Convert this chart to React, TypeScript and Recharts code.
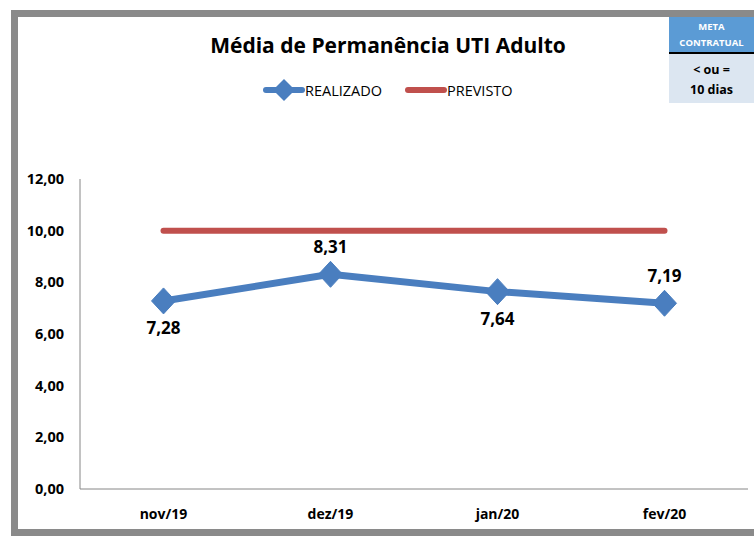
import React from 'react';
import { ComposedChart, Line, XAxis, YAxis, LabelList } from 'recharts';

const months = ['nov/19', 'dez/19', 'jan/20', 'fev/20'];
const realizado = [7.28, 8.31, 7.64, 7.19];
const previsto = [10, 10, 10, 10];
const yTicks = [0, 2, 4, 6, 8, 10, 12];
const labelAbove = [false, true, false, true];

const data = months.map((m, i) => ({ month: m, realizado: realizado[i], previsto: previsto[i] }));

const BLUE = '#4a7ebf';
const RED = '#c0504d';
const FONT = '"Open Sans", "Noto Sans", sans-serif';

const fmt = (v: number) => v.toFixed(2).replace('.', ',');

const Diamond = (props: any) => {
  const { cx, cy } = props;
  if (cx == null || cy == null) return null;
  const w = 12, h = 13;
  return <path d={`M${cx},${cy - h} L${cx + w},${cy} L${cx},${cy + h} L${cx - w},${cy} Z`} fill={BLUE} stroke={BLUE} strokeWidth={1} />;
};

const DataLabel = (props: any) => {
  const { x, y, value, index } = props;
  const above = labelAbove[index];
  return (
    <text x={x} y={above ? y - 28 : y + 27} textAnchor="middle" dominantBaseline="central"
      fontFamily={FONT} fontWeight={700} fontSize={17} fill="#000">{fmt(value)}</text>
  );
};

const LegendBox = () => (
  <div style={{ position: 'absolute', left: 263, top: 78, display: 'flex', alignItems: 'center', fontFamily: FONT, fontSize: 14.5, color: '#000' }}>
    <svg width={42} height={24}>
      <line x1={3} y1={12} x2={39} y2={12} stroke={BLUE} strokeWidth={6} strokeLinecap="round" />
      <path d="M21,1 L32,12 L21,23 L10,12 Z" fill={BLUE} />
    </svg>
    <span style={{ width: 100 }}>REALIZADO</span>
    <svg width={42} height={24}>
      <line x1={3} y1={12} x2={39} y2={12} stroke={RED} strokeWidth={6} strokeLinecap="round" />
    </svg>
    <span>PREVISTO</span>
  </div>
);

export default function App() {
  return (
    <div style={{ position: 'absolute', left: 0, top: 0, width: 754, height: 536, background: '#fff', overflow: 'hidden' }}>
      <div style={{ position: 'absolute', left: 11, top: 10, width: 800, height: 512, border: '7px solid #8a8a8a', borderRight: 'none' }} />
      <div style={{ position: 'absolute', left: 0, top: 31, width: 776, textAlign: 'center', fontFamily: FONT, fontWeight: 700, fontSize: 21, color: '#000' }}>
        Média de Permanência UTI Adulto
      </div>
      <div style={{ position: 'absolute', left: 669, top: 17, width: 85, height: 35, background: '#5b9bd5', color: '#fff', fontFamily: FONT, fontWeight: 700, fontSize: 9.5, textAlign: 'center', lineHeight: '16px', paddingTop: 2, boxSizing: 'border-box' }}>
        META<br />CONTRATUAL
      </div>
      <div style={{ position: 'absolute', left: 669, top: 52, width: 85, height: 2, background: '#000' }} />
      <div style={{ position: 'absolute', left: 669, top: 54, width: 85, height: 49, background: '#dce6f1', color: '#000', fontFamily: FONT, fontWeight: 700, fontSize: 12.5, textAlign: 'center', lineHeight: '20px', paddingTop: 6, boxSizing: 'border-box' }}>
        &lt; ou =<br />10 dias
      </div>
      <LegendBox />
      <div style={{ position: 'absolute', left: 0, top: 0 }}>
        <ComposedChart width={754} height={536} data={data} margin={{ top: 179, right: 6, bottom: 17, left: 0 }}>
          <XAxis dataKey="month" scale="band" height={30} axisLine={{ stroke: '#868686' }} tickLine={false} tickSize={0} tickMargin={20}
            tick={{ fontFamily: FONT, fontWeight: 700, fontSize: 14, fill: '#000' }} interval={0} />
          <YAxis domain={[0, 12]} ticks={yTicks} width={80} axisLine={{ stroke: '#868686' }} tickLine={false} tickSize={0} tickMargin={16}
            tickFormatter={fmt} tick={{ fontFamily: FONT, fontWeight: 700, fontSize: 14.5, fill: '#000' }} />
          <Line dataKey="previsto" name="PREVISTO" stroke={RED} strokeWidth={6} strokeLinecap="round" dot={false} activeDot={false} isAnimationActive={false} />
          <Line dataKey="realizado" name="REALIZADO" type="linear" stroke={BLUE} strokeWidth={7} strokeLinecap="round" strokeLinejoin="round" dot={<Diamond />} activeDot={false} isAnimationActive={false}>
            <LabelList dataKey="realizado" content={<DataLabel />} />
          </Line>
        </ComposedChart>
      </div>
    </div>
  );
}
